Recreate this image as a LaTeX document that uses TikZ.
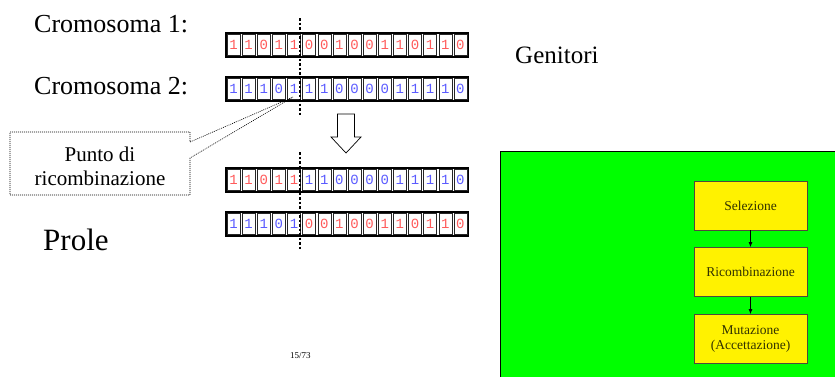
\documentclass[tikz,border=0pt]{standalone}
\usepackage{fontspec}
\setmainfont{Liberation Serif}
\newfontfamily\digitfont{Liberation Mono}
\usetikzlibrary{arrows.meta}
\definecolor{bitred}{RGB}{255,90,90}
\definecolor{bitblue}{RGB}{90,90,255}
\definecolor{panelgreen}{RGB}{0,255,0}
\definecolor{boxtext}{RGB}{50,50,0}
\tikzset{
  lbl/.style={anchor=base west, inner sep=0pt},
  cell/.style={draw=black!85, line width=0.6pt, minimum width=13pt, minimum height=21pt, inner sep=0pt, font=\digitfont\fontsize{14}{14}\selectfont},
  rbit/.style={cell, text=bitred},
  bbit/.style={cell, text=bitblue},
  rowframe/.style={draw=black, line width=1.1pt},
  cutline/.style={line width=1.5pt, dash pattern=on 2.5pt off 2pt},
  flowbox/.style={draw=black!80!yellow, line width=0.8pt, fill=yellow, minimum width=113pt, minimum height=49pt, align=center, text=boxtext, font=\fontsize{13.5}{15.5}\selectfont},
  flowarrow/.style={-{Latex[length=5pt,width=4pt]}, line width=0.8pt}
}
\begin{document}
\begin{tikzpicture}[x=1pt, y=-1pt]
\useasboundingbox (0,0) rectangle (835,376);
% labels
\node[lbl, font=\fontsize{26}{26}\selectfont] (c1) at (34,32) {Cromosoma 1:};
\node[lbl, font=\fontsize{26}{26}\selectfont] (c2) at (34,94) {Cromosoma 2:};
\node[lbl, font=\fontsize{25}{25}\selectfont] (gen) at (515,63) {Genitori};
\node[lbl, font=\fontsize{31}{31}\selectfont] (prole) at (43,250) {Prole};
% row frames
\foreach \r/\y in {1/45, 2/89, 3/180, 4/224}{
  \draw[rowframe] (226,\y-12) rectangle (468,\y+12);
}
% row 1
\foreach \d [count=\i] in {1,1,0,1,1,0,0,1,0,0,1,1,0,1,1,0}
  \node[rbit] (ra\i) at (226+\i*15.125-7.5625, 45) {\d};
% row 2
\foreach \d [count=\i] in {1,1,1,0,1,1,1,0,0,0,0,1,1,1,1,0}
  \node[bbit] (rb\i) at (226+\i*15.125-7.5625, 89) {\d};
% row 3
\foreach \d [count=\i] in {1,1,0,1,1}
  \node[rbit] (rc\i) at (226+\i*15.125-7.5625, 180) {\d};
\foreach \d [count=\i from 6] in {1,1,0,0,0,0,1,1,1,1,0}
  \node[bbit] (rc\i) at (226+\i*15.125-7.5625, 180) {\d};
% row 4
\foreach \d [count=\i] in {1,1,1,0,1}
  \node[bbit] (rd\i) at (226+\i*15.125-7.5625, 224) {\d};
\foreach \d [count=\i from 6] in {0,0,1,0,0,1,1,0,1,1,0}
  \node[rbit] (rd\i) at (226+\i*15.125-7.5625, 224) {\d};
% cut lines
\coordinate (cutA) at (300,18);
\coordinate (cutB) at (300,115);
\coordinate (cutC) at (300,152);
\coordinate (cutD) at (300,250);
\draw[cutline] (cutA) -- (cutB);
\draw[cutline] (cutC) -- (cutD);
% callout
\node[font=\fontsize{21}{24}\selectfont, align=center, inner sep=0pt] (punto) at (100,166) {Punto di\\ricombinazione};
\coordinate (tip) at (293,97);
\draw[line width=0.6pt, dash pattern=on 1pt off 1pt] (10,132) -- (190,132) -- (190,142) -- (tip) -- (190,158) -- (190,195) -- (10,195) -- cycle;
% block arrow
\draw[line width=0.7pt, fill=white] (337.5,114) -- (354.5,114) -- (354.5,137) -- (361,137) -- (346,153) -- (331,137) -- (337.5,137) -- cycle;
% page number
\node[lbl, font=\fontsize{9}{9}\selectfont] (page) at (290,358) {15/73};
% green panel
\fill[panelgreen] (500,151) rectangle (840,380);
\draw[line width=0.8pt] (500,380) -- (500,151) -- (840,151);
\node[flowbox] (sel) at (750.5,205.5) {Selezione};
\node[flowbox] (ric) at (750.5,272) {Ricombinazione};
\node[flowbox] (mut) at (750.5,339) {Mutazione\\(Accettazione)};
\draw[flowarrow] (sel) -- (ric);
\draw[flowarrow] (ric) -- (mut);
\end{tikzpicture}
\end{document}
